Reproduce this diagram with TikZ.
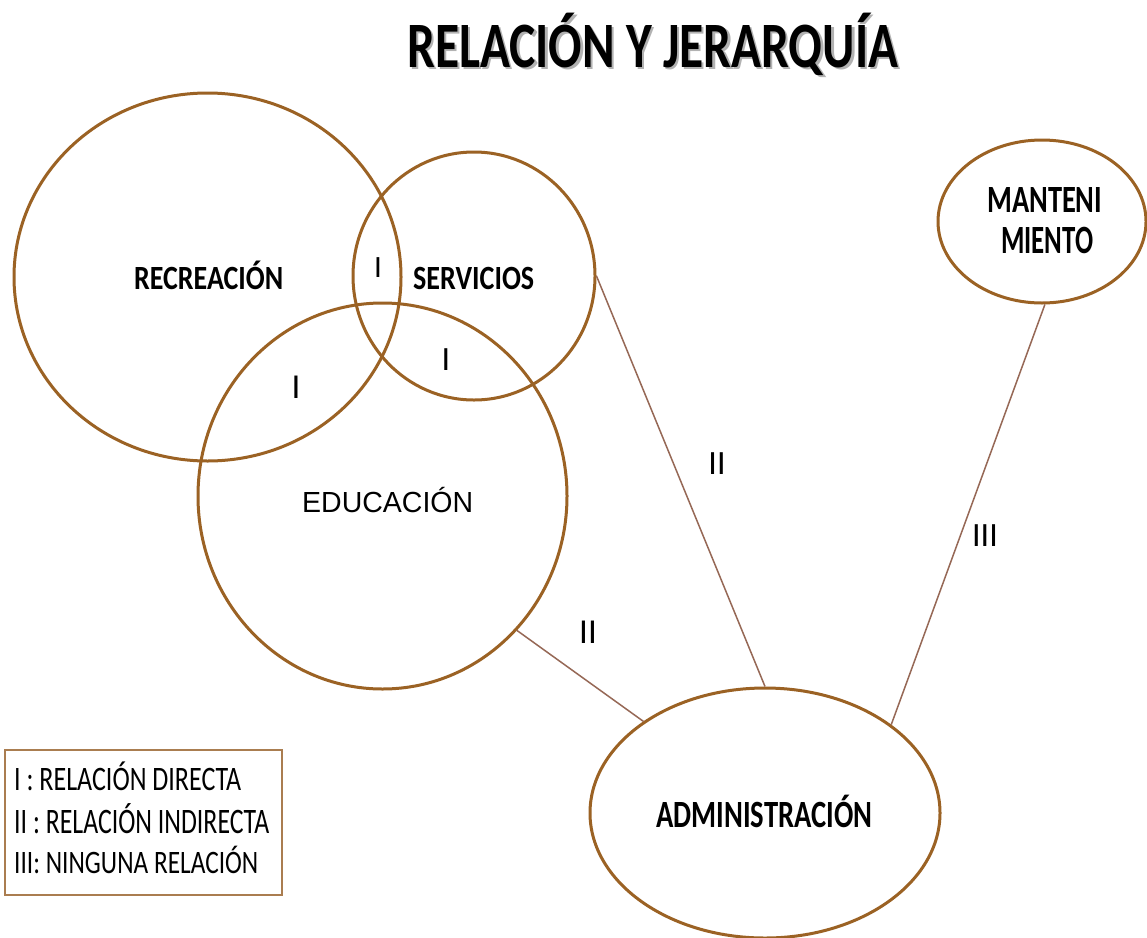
\documentclass[tikz,border=0pt]{standalone}
\usepackage{fontspec}
\usepackage{graphicx}
\usetikzlibrary{shapes.geometric}
\setmainfont{Carlito}
\newfontfamily\labfont{Carlito}[BoldFont={* Bold}]
\newfontfamily\arialfont{Liberation Sans}
\newcommand{\fittext}[3]{\resizebox{#1}{#2}{\vphantom{I}\smash{#3}}}
\newcommand{\titletext}{\fittext{491pt}{42pt}{RELACIÓN Y JERARQUÍA}}
\definecolor{ringbrown}{RGB}{155,98,36}
\definecolor{linkbrown}{RGB}{150,104,86}
\definecolor{boxbrown}{RGB}{170,125,80}
\tikzset{
  ring/.style={draw=ringbrown, line width=3pt, ellipse, inner sep=0pt, fill=none},
  link/.style={draw=linkbrown, line width=1.5pt},
  lbl/.style={anchor=base west, inner sep=0pt, font=\labfont\bfseries},
  num/.style={anchor=base, inner sep=0pt, font=\labfont},
  legtxt/.style={anchor=base west, inner sep=0pt, font=\labfont},
}
\begin{document}
\begin{tikzpicture}[x=1pt,y=-1pt]
\useasboundingbox (0,0) rectangle (1147,937);
\fill[white] (0,0) rectangle (1147,937);

% title with soft shadow (one node)
\node[lbl] (title) at (407,67) {\rlap{\kern2.5pt\raisebox{-2.5pt}{\color{black!30}\titletext}}\titletext};

% ellipses
\node[ring, minimum width=387pt, minimum height=368pt] (rec) at (207.5,277) {};
\node[ring, minimum width=242pt, minimum height=248pt] (serv) at (474,276) {};
\node[ring, minimum width=369pt, minimum height=386pt] (edu) at (382.5,496) {};
\node[ring, minimum width=208pt, minimum height=163pt] (mant) at (1042,221.5) {};
\node[ring, minimum width=350pt, minimum height=250pt] (adm) at (765,813) {};

% connectors
\draw[link] (serv.east) -- (adm.north);
\draw[link] (edu.-45) -- (adm.143.7);
\draw[link] (mant.-88) -- (adm.35.9);

% labels
\node[lbl] (trec) at (134,289) {\fittext{149pt}{22pt}{RECREACIÓN}};
\node[lbl] (tserv) at (413,289) {\fittext{121pt}{22pt}{SERVICIOS}};
\node[anchor=base west, inner sep=0pt, font=\arialfont] (tedu) at (302,512) {\fittext{171pt}{20pt}{EDUCACIÓN}};
\node[lbl] (tmant1) at (987,212) {\fittext{115pt}{25pt}{MANTENI}};
\node[lbl] (tmant2) at (1001,253) {\fittext{92pt}{26pt}{MIENTO}};
\node[lbl] (tadm) at (656,827) {\fittext{216pt}{25pt}{ADMINISTRACIÓN}};

% relation marks
\node[num, font=\labfont\fontsize{31pt}{31pt}\selectfont] (r1) at (378,277) {I};
\node[num, font=\labfont\fontsize{34pt}{34pt}\selectfont] (r2) at (446,370) {I};
\node[num, font=\labfont\fontsize{35pt}{35pt}\selectfont] (r3) at (296,398) {I};
\node[num, font=\labfont\fontsize{35pt}{35pt}\selectfont] (r4) at (588,643) {II};
\node[num, font=\labfont\fontsize{34pt}{34pt}\selectfont] (r5) at (717,474) {II};
\node[num, font=\labfont\fontsize{34pt}{34pt}\selectfont] (r6) at (985,546) {III};

% legend
\node[draw=boxbrown, line width=1.5pt, minimum width=277pt, minimum height=145pt, inner sep=0pt] (legend) at (143.5,822.5) {};
\node[legtxt] (leg1) at (14,790) {\fittext{227pt}{22pt}{I : RELACIÓN DIRECTA}};
\node[legtxt] (leg2) at (14,833) {\fittext{255pt}{23pt}{II : RELACIÓN INDIRECTA}};
\node[legtxt] (leg3) at (14,873) {\fittext{244pt}{21pt}{III: NINGUNA RELACIÓN}};
\end{tikzpicture}
\end{document}
